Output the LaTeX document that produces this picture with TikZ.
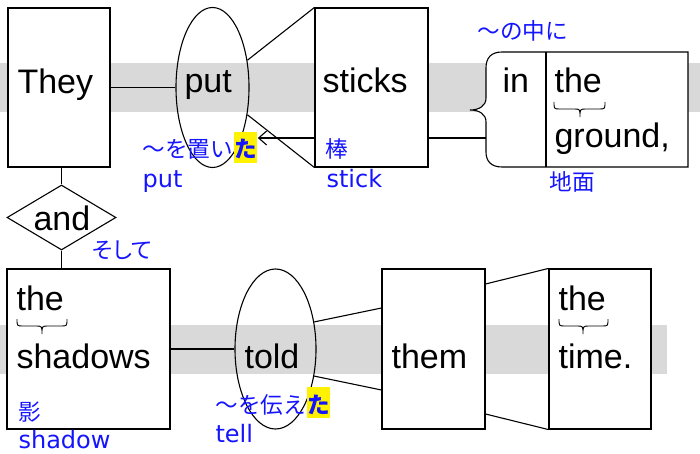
\documentclass[tikz,border=0pt]{standalone}
\usepackage{fontspec}
\setmainfont{Liberation Sans}
\newfontfamily\jpfont{Noto Sans CJK JP}
\newfontfamily\jppfont[RawFeature=+palt]{Noto Sans CJK JP}
\newfontfamily\blfont{DejaVu Sans}
\usetikzlibrary{shapes.geometric,arrows.meta}
\definecolor{bandgray}{HTML}{D9D9D9}
\definecolor{jpblue}{RGB}{20,20,255}
\begin{document}
\begin{tikzpicture}[x=1pt,y=-1pt,
  line width=1.1pt,
  wordbox/.style={draw,fill=white,rectangle,inner sep=0pt},
  wordell/.style={draw,ellipse,inner sep=0pt},
  word/.style={anchor=base west,inner sep=0pt,font=\fontsize{34}{40}\selectfont},
  jp/.style={anchor=base west,inner sep=0pt,text=jpblue,font=\jpfont\fontsize{22.6}{26}\selectfont},
  gloss/.style={anchor=base west,inner sep=0pt,text=jpblue,font=\blfont\fontsize{24}{28}\selectfont},
  hl/.style={anchor=base west,inner xsep=0.3pt,inner ysep=0pt,text height=26pt,text depth=5pt,fill=yellow,text=jpblue,font=\jpfont\bfseries\fontsize{22.6}{26}\selectfont},
  arr/.style={-{Straight Barb[length=8pt,width=14pt]}},
  smallbrace/.style={line width=0.9pt}
]
\useasboundingbox (0,0) rectangle (700,454);
% bands
\fill[bandgray] (0,63) rectangle (700,112);
\fill[bandgray] (0,325) rectangle (667,374);

% top row
\node[wordbox,minimum width=102pt,minimum height=159pt] (they) at (59,87.5) {};
\node[wordell,minimum width=73pt,minimum height=160pt] (put) at (212.5,87.5) {};
\node[wordbox,minimum width=113pt,minimum height=159pt] (sticks) at (371.5,87.5) {};
% in-bracket box
\filldraw[fill=white] (502,52) -- (688,52) -- (688,167) -- (502,167)
  .. controls (491,167) and (486,161) .. (486,152) -- (486,122)
  .. controls (486,114) and (479,110) .. (470,110)
  .. controls (479,110) and (486,106) .. (486,98) -- (486,68)
  .. controls (486,58) and (491,52) .. (502,52) -- cycle;
\draw (546,52) -- (546,167);
\coordinate (bracept) at (486,138);

\node[word] (tThey) at (17,94) {They};
\node[word] (tput) at (184,93) {put};
\node[word] (tsticks) at (322,93) {sticks};
\node[word] (tin) at (502,93) {in};
\node[word] (tthe1) at (554,93) {the};
\node[word] (tground) at (554,148) {ground,};

\draw (they) -- (put);
\draw (put.38) -- (sticks.north west);
\draw (put.-38) -- (sticks.south west);
\draw (sticks.east |- bracept) -- (bracept);

% diamond
\node[draw,fill=white,diamond,inner sep=0pt,minimum width=109pt,minimum height=65pt] (and) at (61.5,217.5) {};
\node[word] (tand) at (33,230) {and};
\draw (and.north |- they.south) -- (and.north);

% bottom row
\node[wordbox,minimum width=163pt,minimum height=160pt] (shadows) at (88.5,349) {};
\node[wordell,minimum width=81pt,minimum height=160pt] (told) at (275.5,349) {};
\node[wordbox,minimum width=103pt,minimum height=160pt] (them) at (433.5,349) {};
\node[wordbox,minimum width=102pt,minimum height=160pt] (time) at (600,349) {};
\draw (and.south) -- (and.south |- shadows.north);
\draw (shadows) -- (told);
\draw (told.35) -- ([yshift=41pt]them.west);
\draw (told.-35) -- ([yshift=-41pt]them.west);
\draw ([yshift=65pt]them.east) -- (time.north west);
\draw ([yshift=-65pt]them.east) -- (time.south west);

\node[word] (tthe2) at (16,310) {the};
\node[word] (tshadows) at (16,368) {shadows};
\node[word] (ttold) at (244,368) {told};
\node[word] (tthem) at (391,368) {them};
\node[word] (tthe3) at (558,310) {the};
\node[word] (ttime) at (558,368) {time.};

% small braces
\draw[smallbrace] (554,102) .. controls (554,109) .. (560,109) -- (574,109) .. controls (580,109) .. (580,117) .. controls (580,109) .. (586,109) -- (599,109) .. controls (605,109) .. (605,102);
\draw[smallbrace] (17,319) .. controls (17,326) .. (23,326) -- (36,326) .. controls (42,326) .. (42,334) .. controls (42,326) .. (48,326) -- (61,326) .. controls (67,326) .. (67,319);
\draw[smallbrace] (559,319) .. controls (559,326) .. (565,326) -- (577,326) .. controls (583,326) .. (583,334) .. controls (583,326) .. (589,326) -- (602,326) .. controls (608,326) .. (608,319);

% glosses
\node[jp] (gput) at (142,158) {～を置い};
\node[hl] (ta1) at (gput.base east) {た};
\node[gloss] (eput) at (142,188) {put};
\draw[arr] (sticks.west |- 0,138) -- (ta1.east |- 0,138);
\node[jp] (gstick) at (325,158) {棒};
\node[gloss] (estick) at (326,188) {stick};
\node[jp] (gin) at (477,40) {～の中に};
\node[jp] (gground) at (549,191) {地面};
\node[jp,font=\jppfont\fontsize{22.6}{26}\selectfont] (gand) at (92,258) {そして};
\node[jp] (gshadow) at (18,420) {影};
\node[gloss] (eshadow) at (18,448) {shadow};
\node[jp] (gtold) at (215,413) {～を伝え};
\node[hl] (ta2) at (gtold.base east) {た};
\node[gloss] (etell) at (215,442) {tell};
\end{tikzpicture}
\end{document}
